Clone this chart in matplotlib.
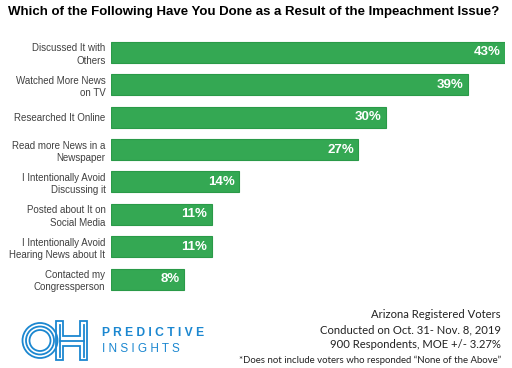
import matplotlib.pyplot as plt
from matplotlib.patches import Circle, Polygon

# survey answers, top to bottom
answers = ['Discussed It with\nOthers', 'Watched More News\non TV', 'Researched It Online',
           'Read more News in a\nNewspaper', 'I Intentionally Avoid\nDiscussing it',
           'Posted about It on\nSocial Media', 'I Intentionally Avoid\nHearing News about It',
           'Contacted my\nCongressperson']
pct = [43, 39, 30, 27, 14, 11, 11, 8]

title = 'Which of the Following Have You Done as a Result of the Impeachment Issue?'
notes = ['Arizona Registered Voters', 'Conducted on Oct. 31- Nov. 8, 2019',
         '900 Respondents, MOE +/- 3.27%']
footnote = '*Does not include voters who responded \u201cNone of the Above\u201d'

W, H = 512, 368
green = '#34a853'
blue = '#1b87d0'

plt.rcParams['font.family'] = ['Liberation Sans', 'DejaVu Sans']
fig = plt.figure(figsize=(W / 100, H / 100), dpi=100)
fig.patch.set_facecolor('white')

# axes placed in pixel terms: bars start at x=111, 43% ends at x=505
top, bot = 36.3, 295.2
ax = fig.add_axes([111 / W, 1 - bot / H, (505 - 111) / W, (bot - top) / H])
y = list(range(len(pct)))
ax.barh(y, pct, height=0.65, color=green, edgecolor='#2a9a48', linewidth=0.8)
ax.set_xlim(0, 43)
ax.set_ylim(len(pct) - 0.5, -0.5)
for i, v in enumerate(pct):
    ax.text(v - 0.5, i, '%d%%' % v, ha='right', va='center', color='white',
            fontsize=9.5, fontweight='bold')
ax.set_yticks(y)
ax.set_yticklabels(answers, fontsize=7, color='#404040', linespacing=1.3)
ax.tick_params(axis='y', length=0, pad=4)
ax.set_xticks([])
for s in ax.spines.values():
    s.set_visible(False)

fig.text(8 / W, 1 - 12 / H, title, fontsize=9.5, fontweight='bold', color='black',
         ha='left', va='center')

# footer notes
for t, yy in zip(notes, [315, 330, 345]):
    fig.text(501 / W, 1 - yy / H, t, fontsize=8.1, color='#222222', ha='right',
             va='center', family=['Lato', 'DejaVu Sans'])
fig.text(501 / W, 1 - 360 / H, footnote, fontsize=6.9, color='#222222', ha='right',
         va='center', family=['Lato', 'DejaVu Sans'])

# logo, drawn in pixel coordinates
lg = fig.add_axes([0, 0, 1, 1], zorder=-1)
lg.set_xlim(0, W)
lg.set_ylim(H, 0)
lg.axis('off')
for r in [17.5, 14, 10.5]:
    lg.add_patch(Circle((40, 340.5), r, fill=False, ec=blue, lw=1.3))
a, b, legw, t0, b0, c0, c1 = 56, 87, 7, 321, 360, 336, 346
pts = [(a, t0), (a + legw, t0), (a + legw, c0), (b - legw, c0), (b - legw, t0), (b, t0),
       (b, b0), (b - legw, b0), (b - legw, c1), (a + legw, c1), (a + legw, b0), (a, b0)]
lg.add_patch(Polygon(pts, closed=True, fill=False, ec=blue, lw=1.3))
m0, m1, mc = a + legw / 2, b - legw / 2, (c0 + c1) / 2
lg.plot([m0, m0], [t0 + 3.5, b0 - 3.5], color=blue, lw=1.3)
lg.plot([m1, m1], [t0 + 3.5, b0 - 3.5], color=blue, lw=1.3)
lg.plot([m0, m1], [mc, mc], color=blue, lw=1.3)

fig.text(102 / W, 1 - 333 / H, 'P R E D I C T I V E', fontsize=8.7, fontweight='bold',
         color=blue, ha='left', va='center')
fig.text(102 / W, 1 - 348.5 / H, 'I N S I G H T S', fontsize=8.5, color=blue,
         ha='left', va='center')

fig.savefig('out.png', dpi=100, facecolor='white')
